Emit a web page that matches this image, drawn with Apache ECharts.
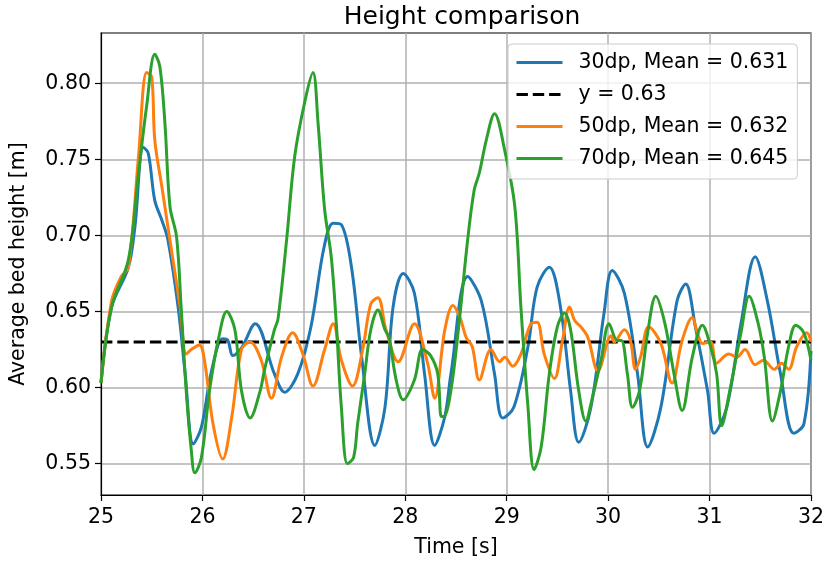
<!DOCTYPE html>
<html>
<head>
<meta charset="utf-8">
<script src="https://cdn.jsdelivr.net/npm/echarts@6/dist/echarts.min.js"></script>
<style>html,body{margin:0;padding:0;background:#fff}#c{width:827px;height:566px}</style>
</head>
<body>
<div id="c"></div>
<script>
const title = 'Height comparison';
const xName = 'Time [s]';
const yName = 'Average bed height [m]';
const seriesNames = ['30dp, Mean = 0.631', 'y = 0.63', '50dp, Mean = 0.632', '70dp, Mean = 0.645'];
const yTicks = [0.55, 0.60, 0.65, 0.70, 0.75, 0.80];
const refValue = 0.63;
const refT = [25, 32];

const t30 = [25.00,25.105,25.27,25.335,25.416,25.466,25.53,25.60,25.66,25.76,25.83,25.91,25.99,26.09,26.20,26.25,26.30,26.385,26.52,26.71,26.81,26.94,27.07,27.20,27.29,27.37,27.47,27.57,27.70,27.80,27.88,27.98,28.09,28.19,28.29,28.39,28.45,28.615,28.75,28.88,28.96,29.07,29.21,29.30,29.42,29.53,29.63,29.71,29.83,29.96,30.04,30.16,30.29,30.39,30.52,30.68,30.765,30.86,30.98,31.045,31.17,31.31,31.45,31.57,31.70,31.83,31.93,32.00];
const h30 = [0.603,0.653,0.679,0.706,0.758,0.754,0.723,0.710,0.697,0.653,0.609,0.563,0.574,0.611,0.632,0.631,0.621,0.626,0.642,0.609,0.597,0.609,0.640,0.6925,0.708,0.707,0.679,0.620,0.562,0.587,0.653,0.675,0.662,0.609,0.562,0.581,0.609,0.673,0.657,0.609,0.580,0.587,0.627,0.666,0.679,0.653,0.598,0.564,0.587,0.649,0.677,0.662,0.609,0.561,0.587,0.657,0.668,0.640,0.598,0.570,0.587,0.642,0.686,0.657,0.609,0.570,0.576,0.624];

const t50 = [25.00,25.105,25.20,25.27,25.37,25.45,25.50,25.53,25.60,25.70,25.78,25.84,25.89,25.97,26.02,26.105,26.20,26.29,26.385,26.47,26.58,26.68,26.78,26.89,26.99,27.09,27.205,27.29,27.37,27.48,27.58,27.66,27.73,27.81,27.93,28.09,28.22,28.29,28.39,28.47,28.54,28.60,28.66,28.73,28.845,28.93,28.98,29.06,29.14,29.24,29.30,29.37,29.47,29.55,29.62,29.67,29.73,29.80,29.90,30.03,30.06,30.16,30.22,30.27,30.32,30.40,30.52,30.63,30.73,30.83,30.88,30.93,31.01,31.07,31.19,31.27,31.35,31.45,31.53,31.64,31.71,31.78,31.86,31.96,32.00];
const h50 = [0.603,0.657,0.673,0.679,0.752,0.807,0.804,0.763,0.732,0.688,0.653,0.622,0.625,0.628,0.618,0.576,0.553,0.581,0.625,0.630,0.618,0.593,0.620,0.636,0.622,0.601,0.625,0.642,0.618,0.601,0.625,0.655,0.659,0.638,0.617,0.642,0.616,0.593,0.638,0.654,0.646,0.633,0.627,0.605,0.625,0.617,0.620,0.614,0.622,0.642,0.643,0.622,0.606,0.631,0.653,0.644,0.640,0.633,0.611,0.634,0.630,0.638,0.631,0.612,0.620,0.640,0.629,0.603,0.631,0.646,0.636,0.629,0.630,0.616,0.622,0.620,0.625,0.615,0.618,0.612,0.616,0.612,0.627,0.636,0.630];

const t70 = [25.00,25.105,25.27,25.37,25.45,25.53,25.58,25.63,25.68,25.745,25.79,25.84,25.89,25.925,25.99,26.07,26.155,26.24,26.32,26.385,26.47,26.57,26.61,26.71,26.745,26.83,26.91,27.01,27.09,27.14,27.205,27.27,27.32,27.37,27.43,27.49,27.53,27.60,27.66,27.73,27.80,27.84,27.91,27.98,28.09,28.17,28.25,28.32,28.355,28.38,28.45,28.53,28.615,28.68,28.73,28.80,28.88,28.98,29.08,29.14,29.21,29.27,29.34,29.42,29.50,29.57,29.63,29.71,29.78,29.84,29.93,30.01,30.09,30.13,30.19,30.24,30.31,30.39,30.47,30.56,30.65,30.73,30.83,30.93,31.01,31.07,31.12,31.20,31.31,31.39,31.48,31.54,31.62,31.70,31.78,31.85,31.93,32.00];
const h70 = [0.603,0.653,0.684,0.741,0.785,0.819,0.811,0.774,0.719,0.699,0.653,0.598,0.559,0.544,0.554,0.598,0.631,0.650,0.638,0.598,0.580,0.598,0.611,0.638,0.645,0.697,0.752,0.788,0.807,0.774,0.717,0.686,0.642,0.587,0.550,0.554,0.576,0.609,0.638,0.651,0.638,0.633,0.605,0.592,0.605,0.625,0.621,0.609,0.581,0.581,0.598,0.642,0.697,0.730,0.741,0.763,0.780,0.756,0.719,0.653,0.587,0.546,0.561,0.609,0.640,0.649,0.638,0.598,0.578,0.592,0.618,0.642,0.631,0.631,0.609,0.587,0.598,0.636,0.660,0.642,0.609,0.585,0.620,0.641,0.627,0.609,0.575,0.598,0.636,0.660,0.642,0.620,0.578,0.598,0.627,0.641,0.636,0.618];

const colors = ['#1f77b4', '#000000', '#ff7f0e', '#2ca02c'];
const FONT = 'DejaVu Sans';
const zip = (a, b) => a.map((v, i) => [v, b[i]]);

const chart = echarts.init(document.getElementById('c'), null, {renderer: 'canvas'});
const lineSeries = (name, data, color, extra) => Object.assign({
  name, type: 'line', data, showSymbol: false, symbol: 'none', smooth: 0.35,
  lineStyle: {color, width: 3}, itemStyle: {color}, animation: false
}, extra || {});

chart.setOption({
  animation: false,
  title: {text: title, left: 457, top: 0, textAlign: 'center', textStyle: {fontFamily: FONT, fontSize: 25, fontWeight: 'normal', color: '#000'}},
  grid: {left: 101, right: 15, top: 33, bottom: 71, show: true, borderColor: '#000', borderWidth: 1.2, backgroundColor: 'transparent'},
  legend: {
    orient: 'vertical', left: 508, top: 44,
    padding: [8, 9, 10, 7], itemGap: 11, itemWidth: 46, itemHeight: 20,
    backgroundColor: 'rgba(255,255,255,0.8)', borderColor: '#cccccc', borderWidth: 1, borderRadius: 4,
    itemStyle: {opacity: 0, borderWidth: 0},
    lineStyle: {width: 3},
    textStyle: {fontFamily: FONT, fontSize: 20.5, color: '#000', padding: [0, 0, 0, 11]},
    data: seriesNames
  },
  xAxis: {
    type: 'value', min: 25, max: 32, interval: 1,
    name: xName, nameLocation: 'middle', nameGap: 42,
    nameTextStyle: {fontFamily: FONT, fontSize: 20.5, color: '#000'},
    axisLine: {onZero: false, lineStyle: {color: '#000', width: 1.2}},
    axisTick: {show: true, length: 6, lineStyle: {color: '#000', width: 1.2}},
    axisLabel: {fontFamily: FONT, fontSize: 20.5, color: '#000', margin: 12},
    splitLine: {show: true, lineStyle: {color: '#b0b0b0', width: 1.5}}
  },
  yAxis: {
    type: 'value', min: 0.5294, max: 0.833,
    name: yName, nameLocation: 'middle', nameGap: 72,
    nameTextStyle: {fontFamily: FONT, fontSize: 20.5, color: '#000'},
    axisLine: {show: true, lineStyle: {color: '#000', width: 1.2}},
    axisTick: {show: true, length: 6, customValues: yTicks, lineStyle: {color: '#000', width: 1.2}},
    axisLabel: {fontFamily: FONT, fontSize: 20.5, color: '#000', margin: 10, customValues: yTicks, formatter: v => v.toFixed(2)},
    splitLine: {show: true, lineStyle: {color: '#b0b0b0', width: 1.5}}
  },
  series: [
    lineSeries(seriesNames[0], zip(t30, h30), colors[0]),
    lineSeries(seriesNames[1], refT.map(t => [t, refValue]), colors[1], {smooth: false, lineStyle: {color: '#000', width: 3, type: [11.4, 4.9]}}),
    lineSeries(seriesNames[2], zip(t50, h50), colors[2]),
    lineSeries(seriesNames[3], zip(t70, h70), colors[3])
  ]
});
</script>
</body>
</html>
